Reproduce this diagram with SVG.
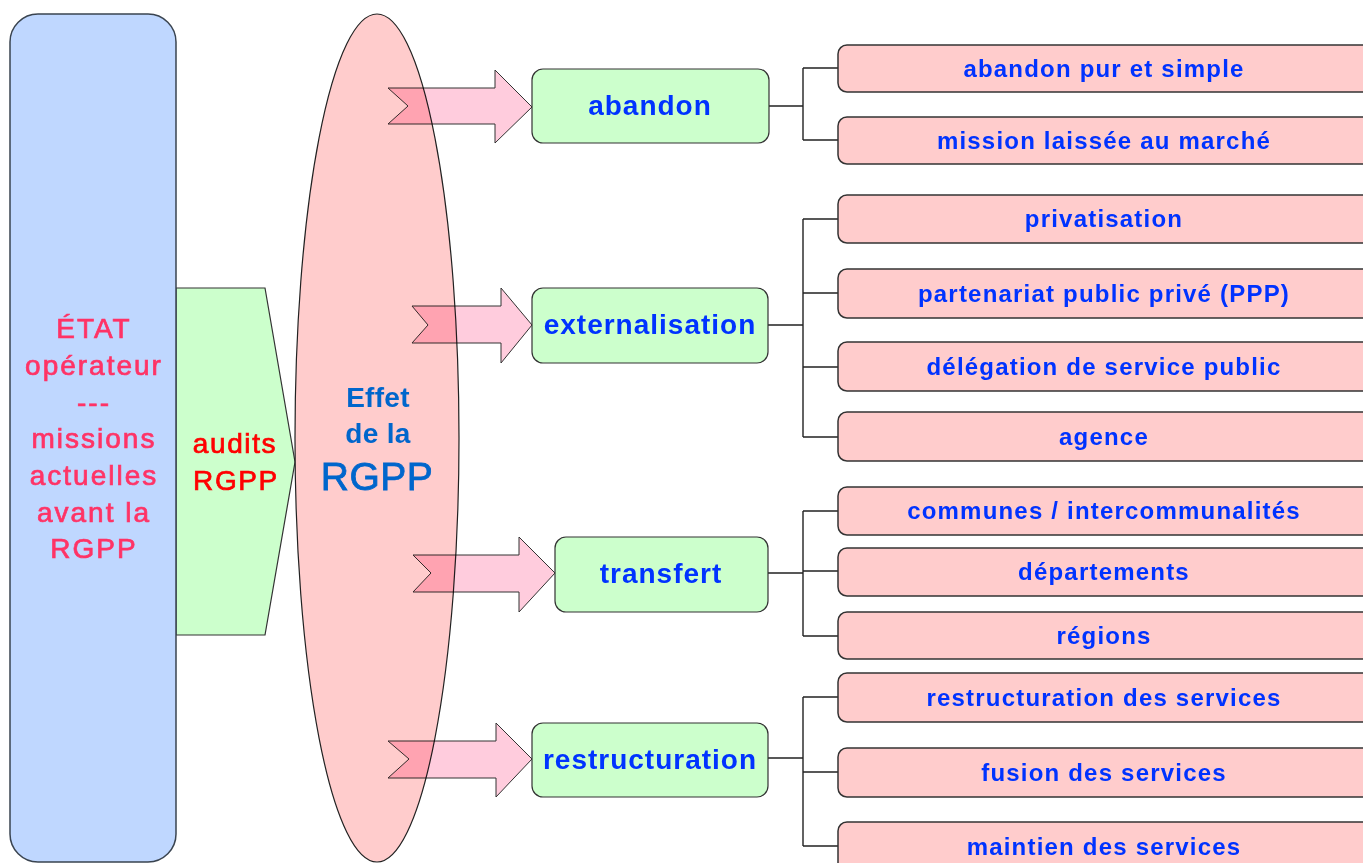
<svg xmlns="http://www.w3.org/2000/svg" width="1363" height="863" viewBox="0 0 1363 863">
<style>
.etat{fill:#bfd7ff;stroke:#3a4450;stroke-width:1.5}
.audit{fill:#ccffcc;stroke:#333;stroke-width:1.2}
.eff{fill:#ffcccc;stroke:#222;stroke-width:1.2}
.arr{fill:#ffccdd;stroke:#333;stroke-width:1;mix-blend-mode:multiply}
.mid{fill:#ccffcc;stroke:#333;stroke-width:1.2}
.leaf{fill:#ffcccc;stroke:#333;stroke-width:1.5}
.conn{fill:none;stroke:#222;stroke-width:1.4}
text{font-family:"Liberation Sans",Arial,sans-serif;text-anchor:middle}
.tl{font-size:28px;fill:#ff3366;stroke:#ff3366;stroke-width:0.7;letter-spacing:2px}
.ta{font-size:28px;fill:#ff0000;stroke:#ff0000;stroke-width:0.7;letter-spacing:1.6px}
.te{font-size:28px;font-weight:bold;fill:#0066cc;letter-spacing:0.3px}
.tm{font-size:28px;font-weight:bold;fill:#0033ff;letter-spacing:1px}
.tr{font-size:24px;font-weight:bold;fill:#0033ff;letter-spacing:1.2px}
</style>
<g id="audits">
<polygon class="audit" points="176,288 265,288 295,462 265,635 176,635"/>
<text class="ta" x="235" y="453">audits</text>
<text class="ta" x="236" y="490">RGPP</text>
</g>
<g id="etat">
<rect class="etat" x="10" y="14" width="166" height="848" rx="28" ry="28"/>
<text class="tl" x="94" y="338">ÉTAT</text>
<text class="tl" x="94" y="375">opérateur</text>
<text class="tl" x="94" y="412">---</text>
<text class="tl" x="94" y="448">missions</text>
<text class="tl" x="94" y="485">actuelles</text>
<text class="tl" x="94" y="522">avant la</text>
<text class="tl" x="94" y="558">RGPP</text>
</g>
<g id="effet">
<ellipse class="eff" cx="377" cy="438" rx="82" ry="424"/>
<text class="te" x="378" y="407">Effet</text>
<text class="te" x="378" y="443">de la</text>
<text x="377" y="490" style="font-size:39px;fill:#0066cc;stroke:#0066cc;stroke-width:0.8;letter-spacing:0.5px">RGPP</text>
</g>
<g id="connectors">
<polygon class="arr" points="388,88 495,88 495,70 532,107 495,143 495,124 388,124 408,106"/>
<polygon class="arr" points="412,306 501,306 501,288 532,325 501,363 501,343 412,343 428,325"/>
<polygon class="arr" points="413,555 519,555 519,537 555,573 519,612 519,592 413,592 431,573"/>
<polygon class="arr" points="388,741 496,741 496,723 532,759 496,797 496,778 388,778 409,759"/>
<path class="conn" d="M769,106H803M803,68V140M803,68H838M803,140H838"/>
<path class="conn" d="M768,325H803M803,219V437M803,219H838M803,293H838M803,367H838M803,437H838"/>
<path class="conn" d="M768,573H803M803,511V636M803,511H838M803,571H838M803,636H838"/>
<path class="conn" d="M768,758H803M803,697V846M803,697H838M803,772H838M803,846H838"/>
</g>
<g id="abandon"><rect class="mid" x="532" y="69" width="237" height="74" rx="11"/><text class="tm" x="650" y="115">abandon</text></g>
<g id="externalisation"><rect class="mid" x="532" y="288" width="236" height="75" rx="11"/><text class="tm" x="650" y="334">externalisation</text></g>
<g id="transfert"><rect class="mid" x="555" y="537" width="213" height="75" rx="11"/><text class="tm" x="661" y="583">transfert</text></g>
<g id="restructuration"><rect class="mid" x="532" y="723" width="236" height="74" rx="11"/><text class="tm" x="650" y="769">restructuration</text></g>
<g id="leaf1"><rect class="leaf" x="838" y="45" width="560" height="47" rx="9"/><text class="tr" x="1104" y="77">abandon pur et simple</text></g>
<g id="leaf2"><rect class="leaf" x="838" y="117" width="560" height="47" rx="9"/><text class="tr" x="1104" y="149">mission laissée au marché</text></g>
<g id="leaf3"><rect class="leaf" x="838" y="195" width="560" height="48" rx="9"/><text class="tr" x="1104" y="227">privatisation</text></g>
<g id="leaf4"><rect class="leaf" x="838" y="269" width="560" height="49" rx="9"/><text class="tr" x="1104" y="302">partenariat public privé (PPP)</text></g>
<g id="leaf5"><rect class="leaf" x="838" y="342" width="560" height="49" rx="9"/><text class="tr" x="1104" y="375">délégation de service public</text></g>
<g id="leaf6"><rect class="leaf" x="838" y="412" width="560" height="49" rx="9"/><text class="tr" x="1104" y="445">agence</text></g>
<g id="leaf7"><rect class="leaf" x="838" y="487" width="560" height="48" rx="9"/><text class="tr" x="1104" y="519">communes / intercommunalités</text></g>
<g id="leaf8"><rect class="leaf" x="838" y="548" width="560" height="48" rx="9"/><text class="tr" x="1104" y="580">départements</text></g>
<g id="leaf9"><rect class="leaf" x="838" y="612" width="560" height="47" rx="9"/><text class="tr" x="1104" y="644">régions</text></g>
<g id="leaf10"><rect class="leaf" x="838" y="673" width="560" height="49" rx="9"/><text class="tr" x="1104" y="706">restructuration des services</text></g>
<g id="leaf11"><rect class="leaf" x="838" y="748" width="560" height="49" rx="9"/><text class="tr" x="1104" y="781">fusion des services</text></g>
<g id="leaf12"><rect class="leaf" x="838" y="822" width="560" height="60" rx="9"/><text class="tr" x="1104" y="855">maintien des services</text></g>
</svg>
